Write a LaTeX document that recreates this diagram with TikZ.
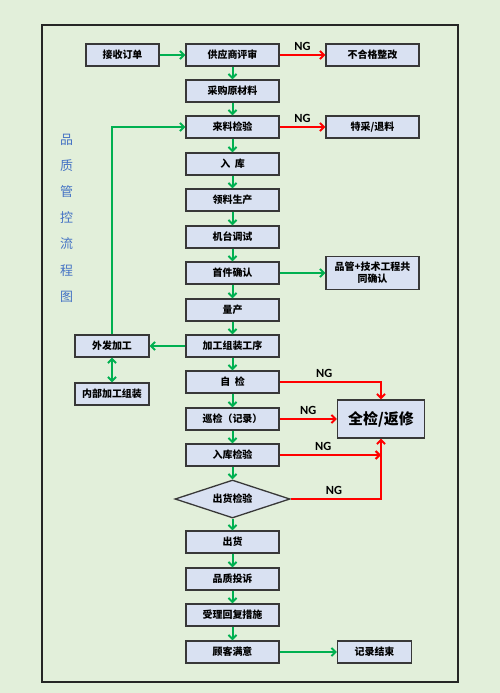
\documentclass[tikz,border=0pt]{standalone}
\usepackage{fontspec}
\setmainfont{Noto Sans CJK SC}
\newfontfamily\ngfont{Carlito}
\usetikzlibrary{arrows.meta, positioning, shapes.geometric}

\definecolor{bgGreen}{HTML}{E2EFDA}
\definecolor{boxFill}{HTML}{D9E1F2}
\definecolor{boxLine}{HTML}{383838}
\definecolor{okGreen}{HTML}{00B050}
\definecolor{ngRed}{HTML}{FF0000}
\definecolor{titleBlue}{HTML}{4472C4}

\tikzset{
  stepbox/.style={draw=boxLine, fill=boxFill, line width=1.3bp,
    minimum width=93bp, minimum height=22bp, inner sep=1pt,
    font=\fontsize{10}{12}\selectfont\bfseries},
  sidebox/.style={stepbox, minimum width=74bp},
  okarrow/.style={draw=okGreen, line width=2bp,
    -{Straight Barb[length=4bp,width=8bp]}},
  ngarrow/.style={draw=ngRed, line width=2bp,
    -{Straight Barb[length=4bp,width=8bp]}},
  nglabel/.style={font=\ngfont\bfseries\fontsize{12.5}{14}\selectfont, text=black}
}

\begin{document}
\begin{tikzpicture}[x=1bp,y=-1bp]

		% Tlo i ramka
		\fill[bgGreen] (0,0) rectangle (500,693);
		\draw[line width=2bp, black!85] (42,25) rectangle (458,682);

		% Tytul pionowy
		\node[text=titleBlue, align=center, font=\fontsize{13}{26.3}\selectfont] (title) at (66.7,218)
			{品\\质\\管\\控\\流\\程\\图};

		% Glowna kolumna
		\node[stepbox] (review) at (232.5,55) {供应商评审};
		\node[stepbox] (purchase) at (232.5,91) {采购原材料};
		\node[stepbox] (incoming) at (232.5,127) {来料检验};
		\node[stepbox] (store) at (232.5,164) {入\ \ 库};
		\node[stepbox] (pick) at (232.5,200) {领料生产};
		\node[stepbox] (debug) at (232.5,237) {机台调试};
		\node[stepbox] (first) at (232.5,273) {首件确认};
		\node[stepbox] (mass) at (232.5,310) {量产};
		\node[stepbox] (assembly) at (232.5,346) {加工组装工序};
		\node[stepbox] (selfcheck) at (232.5,382) {自\ \ 检};
		\node[stepbox] (patrol) at (232.5,419) {巡检（记录）};
		\node[stepbox] (storecheck) at (232.5,455) {入库检验};
		\node[draw=boxLine, fill=boxFill, line width=1.3bp, diamond, aspect=3,
			minimum width=115bp, minimum height=38bp, inner sep=0pt,
			font=\fontsize{10}{12}\selectfont\bfseries] (shipcheck) at (232.5,499) {出货检验};
		\node[stepbox] (ship) at (232.5,542) {出货};
		\node[stepbox] (complaint) at (232.5,579) {品质投诉};
		\node[stepbox] (reply) at (232.5,615) {受理回复措施};
		\node[stepbox] (satisfied) at (232.5,652) {顾客满意};

		% Boczne bloki
		\node[sidebox, minimum width=73bp] (order) at (122.5,55) {接收订单};
		\node[stepbox] (rectify) at (372.5,55) {不合格整改};
		\node[stepbox] (reject) at (372.5,127) {特采/退料};
		\node[stepbox, minimum height=33bp, align=center] (joint) at (372.5,273) {品管+技术工程共\\同确认};
		\node[sidebox] (outsource) at (112,346) {外发加工};
		\node[sidebox] (inhouse) at (112,394) {内部加工组装};
		\node[stepbox, minimum width=87bp, minimum height=38bp,
			font=\fontsize{15}{18}\selectfont\bfseries] (rework) at (381,419) {全检/返修};
		\node[sidebox] (finish) at (374.5,652) {记录结束};

		% Strzalki w kolumnie
		\foreach \a/\b in {review/purchase, purchase/incoming, incoming/store, store/pick,
			pick/debug, debug/first, first/mass, mass/assembly, assembly/selfcheck,
			selfcheck/patrol, patrol/storecheck, storecheck/shipcheck, shipcheck/ship,
			ship/complaint, complaint/reply, reply/satisfied}
			\draw[okarrow] (\a) -- (\b);

		% Strzalki zielone w bok
		\draw[okarrow] (order) -- (review);
		\draw[okarrow] (first) -- (joint);
		\draw[okarrow] (assembly) -- (outsource);
		\draw[okarrow, {Straight Barb[length=4bp,width=8bp]}-{Straight Barb[length=4bp,width=8bp]}] (outsource) -- (inhouse);
		\draw[okarrow] (outsource.north) |- (incoming.west);
		\draw[okarrow] (satisfied) -- (finish);

		% Strzalki NG
		\draw[ngarrow] (review) -- node[nglabel, above] {NG} (rectify);
		\draw[ngarrow] (incoming) -- node[nglabel, above] {NG} (reject);
		\draw[ngarrow] (selfcheck.east) -| node[nglabel, above, pos=0.22] {NG} (rework.north);
		\draw[ngarrow] (patrol.east) -- node[nglabel, above] {NG} (patrol.east -| rework.west);
		\coordinate (joinpt) at (storecheck.east -| rework.south);
		\draw[ngarrow] (storecheck.east) -- node[nglabel, above, pos=0.43] {NG} (joinpt);
		\draw[ngarrow] (shipcheck.east) -| node[nglabel, above, pos=0.24] {NG} (rework.south);

	\end{tikzpicture}
\end{document}
